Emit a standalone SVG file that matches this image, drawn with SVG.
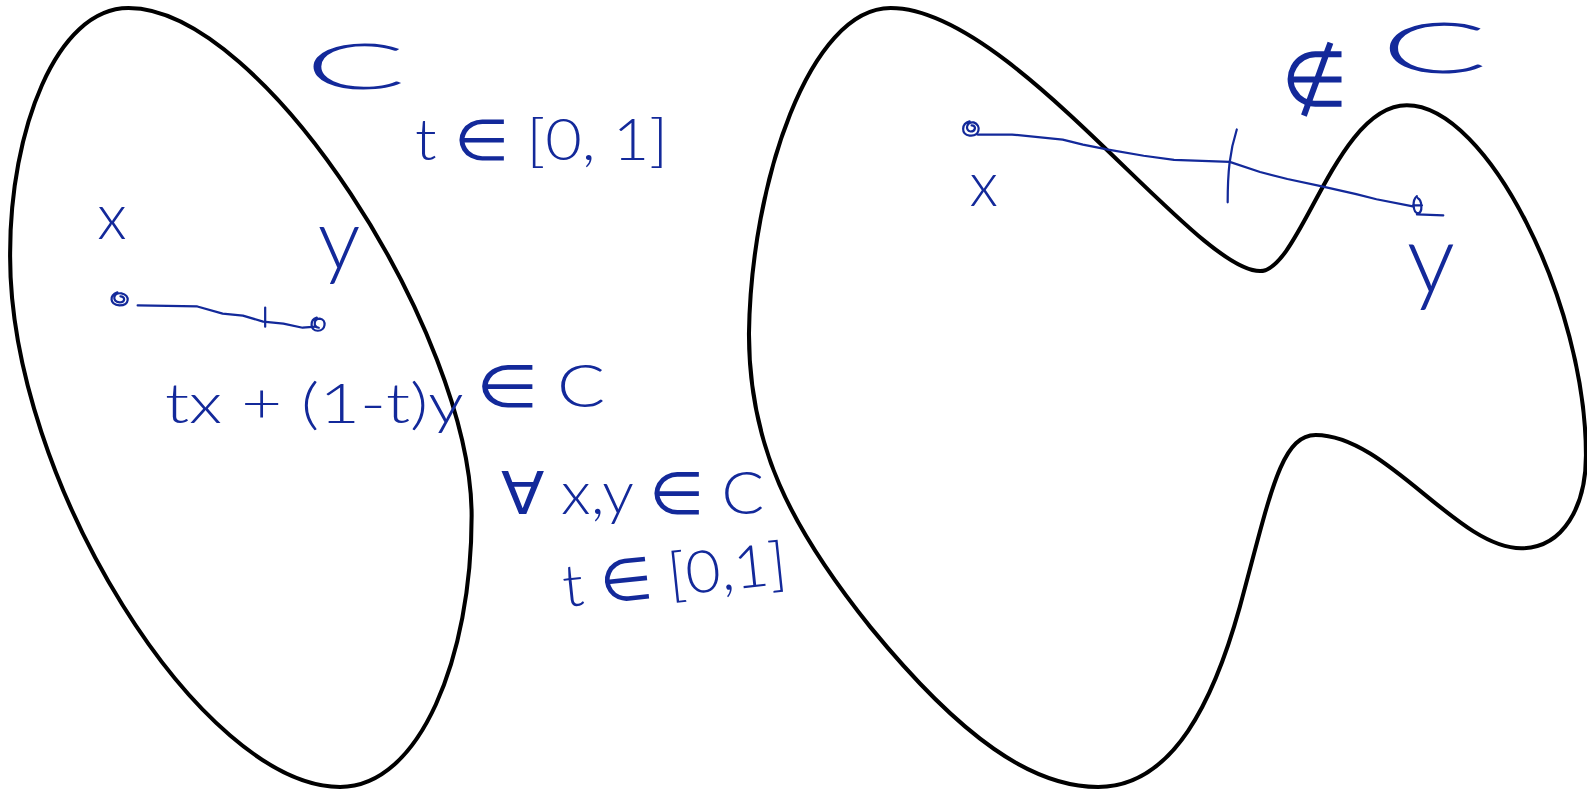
<svg xmlns="http://www.w3.org/2000/svg" width="1587" height="791" viewBox="0 0 1587 791">
  <style>
    .shape { fill: none; stroke: #000000; stroke-width: 4; stroke-linejoin: round; }
    .ink { fill: none; stroke: #13299a; stroke-width: 2.2; stroke-linecap: round; stroke-linejoin: round; }
    .hw { fill: #13299a; font-family: "Lato", "Open Sans", "Liberation Sans", sans-serif; font-weight: 300; }
  </style>
  <rect width="1587" height="791" fill="#ffffff"/>
  <g transform="scale(1.0121 1.0115)">
    <g id="convex-set">
      <path class="shape" d="M 127 8 C 55 8, 10 130, 10 250 C 8 475, 200 778, 336 778 C 415 778, 466 650, 466 510 C 466 330, 260 8, 127 8 Z"/>
    </g>
    <g id="nonconvex-set">
      <path class="shape" d="M 880 8 C 800 8, 742 180, 740 330 C 740 440, 780 520, 860 620 C 950 730, 1020 778, 1085 778 C 1160 778, 1200 690, 1225 600 C 1255 490, 1265 430, 1300 430 C 1370 430, 1440 542, 1503 542 C 1545 542, 1567 500, 1567 450 C 1567 300, 1470 104, 1390 104 C 1320 104, 1285 268, 1245 268 C 1180 268, 1000 8, 880 8 Z"/>
    </g>
    <g id="connectors">
      <path class="ink" d="M 116 289 C 108 292, 108 301, 118 302 C 128 302, 129 292, 120 290 C 112 289, 110 298, 118 299 C 124 299, 124 293, 119 293"/>
      <path class="ink" d="M 136 302 L 195 303 L 220 310 L 240 312 L 260 318 L 280 320 L 299 324 L 312 323"/>
      <path class="ink" d="M 262 304 L 262 323"/>
      <path class="ink" d="M 313 314 C 306 316, 306 327, 314 327 C 322 327, 323 316, 316 315 C 310 315, 309 323, 315 324"/>
      <path class="ink" d="M 958 120 C 950 122, 949 133, 958 134 C 968 135, 970 124, 962 121 C 955 120, 953 129, 959 130 C 964 130, 965 124, 960 124"/>
      <path class="ink" d="M 966 133 L 1000 133 L 1050 138 L 1070 143 L 1095 148 L 1130 154 L 1160 158 L 1215 160 L 1245 170 L 1272 177 L 1305 184 L 1340 192 L 1360 197 L 1396 204"/>
      <path class="ink" d="M 1222 128 C 1215 150, 1213 170, 1213 200"/>
      <path class="ink" d="M 1400 194 C 1395 198, 1396 210, 1401 211 C 1406 210, 1405 198, 1401 196 M 1396 203 L 1405 203 M 1400 212 L 1426 213"/>
    </g>
    <g id="label-C-left">
      <text class="hw" x="301" y="88" font-size="62" textLength="100" lengthAdjust="spacingAndGlyphs">C</text>
    </g>
    <g id="label-t-range-top">
      <text class="hw" x="410" y="158" font-size="56" textLength="250" lengthAdjust="spacingAndGlyphs">t ∈ [0, 1]</text>
    </g>
    <g id="label-x-left">
      <text class="hw" x="96" y="236" font-size="62">x</text>
    </g>
    <g id="label-y-left">
      <text class="hw" x="314" y="266" font-size="84">y</text>
    </g>
    <g id="label-combination">
      <text class="hw" x="163" y="418" font-size="54" textLength="295" lengthAdjust="spacingAndGlyphs">tx + (1-t)y</text>
      <text class="hw" x="470" y="402" font-size="58" textLength="128" lengthAdjust="spacingAndGlyphs">∈ C</text>
    </g>
    <g id="label-forall">
      <text class="hw" x="495" y="508" font-size="58" textLength="260" lengthAdjust="spacingAndGlyphs">∀ x,y ∈ C</text>
    </g>
    <g id="label-t-range-bottom">
      <text class="hw" x="558" y="600" font-size="58" textLength="222" lengthAdjust="spacingAndGlyphs" transform="rotate(-6 558 600)">t ∈ [0,1]</text>
    </g>
    <g id="label-x-right">
      <text class="hw" x="958" y="204" font-size="60">x</text>
    </g>
    <g id="label-notin-C">
      <text class="hw" x="1266" y="105" font-size="76">∉</text>
      <text class="hw" x="1364" y="72" font-size="70" textLength="106" lengthAdjust="spacingAndGlyphs">C</text>
    </g>
    <g id="label-y-right">
      <text class="hw" x="1390" y="290" font-size="95">y</text>
    </g>
  </g>
</svg>
